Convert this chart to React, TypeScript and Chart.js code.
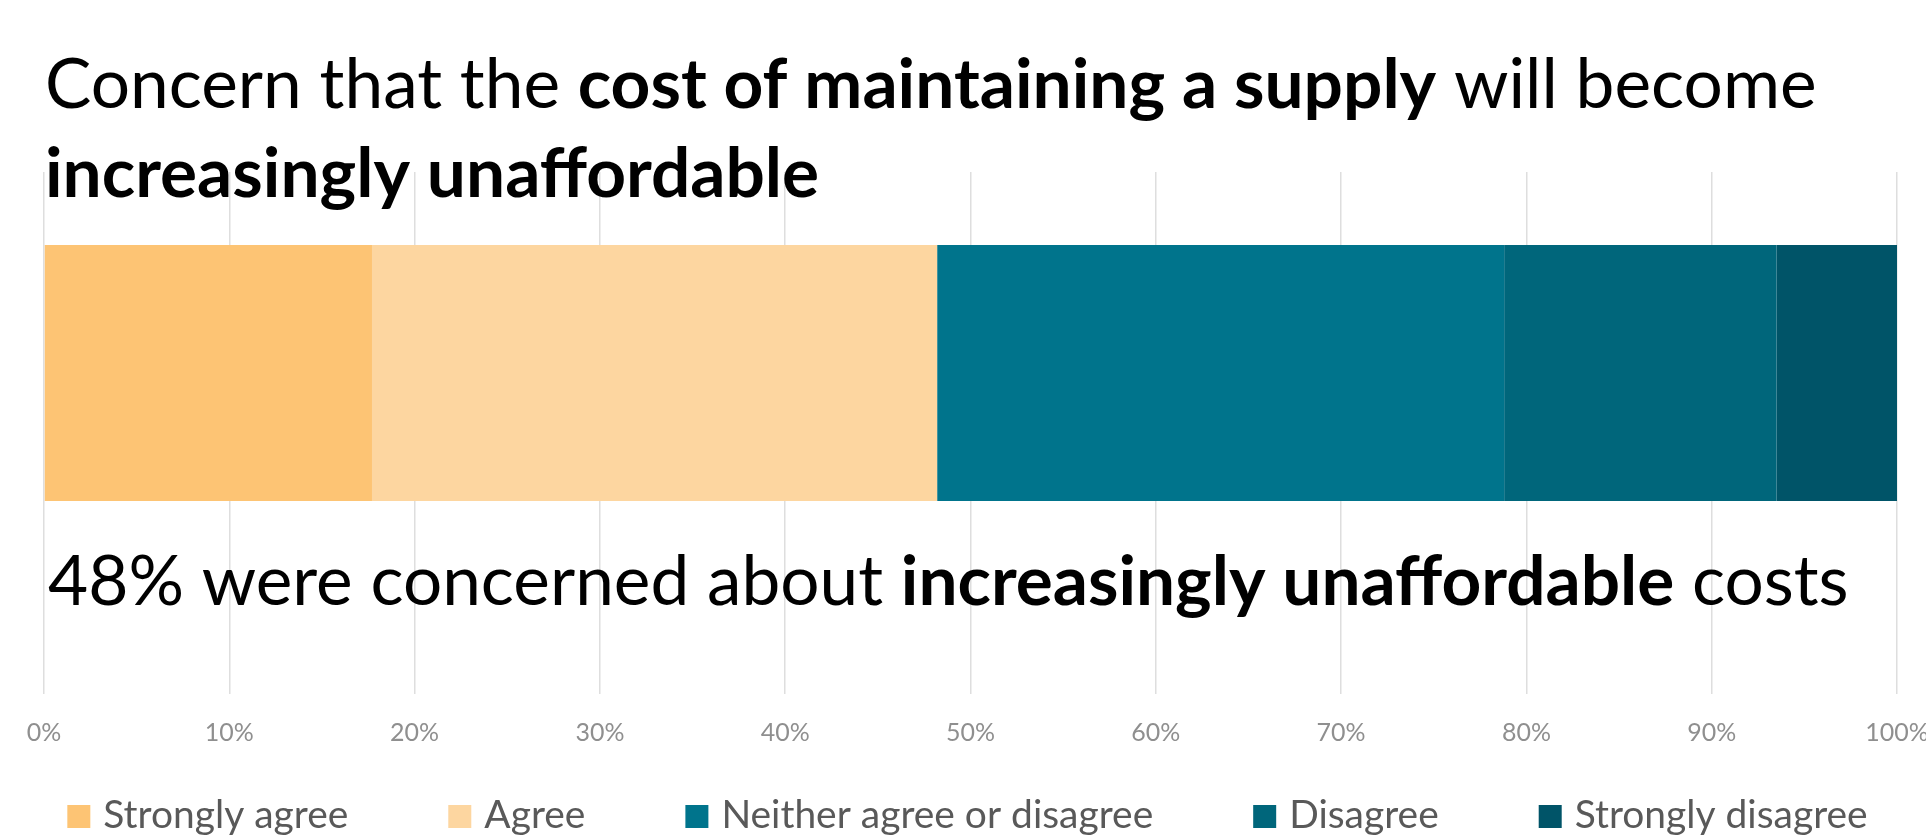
import { useEffect, useRef } from "react";
import { Chart, registerables } from "chart.js";

Chart.register(...registerables);

// ---------- DATA ----------
const categories = ["Cost of maintaining a supply"];
const seriesLabels = [
  "Strongly agree",
  "Agree",
  "Neither agree or disagree",
  "Disagree",
  "Strongly disagree",
];
const stronglyAgree = [17.7];
const agree = [30.5];
const neitherAgreeOrDisagree = [30.6];
const disagree = [14.7];
const stronglyDisagree = [6.5];
const seriesColors = ["#FDC474", "#FDD6A0", "#00748C", "#00667B", "#005468"];

const xMin = 0;
const xMax = 100;
const xStep = 10;
const tickSuffix = "%";

type Seg = { t: string; b: boolean };
const titleLine1: Seg[] = [
  { t: "Concern that the ", b: false },
  { t: "cost of maintaining a supply", b: true },
  { t: " will become", b: false },
];
const titleLine2: Seg[] = [{ t: "increasingly unaffordable", b: true }];
const noteLine: Seg[] = [
  { t: "48% were concerned about ", b: false },
  { t: "increasingly unaffordable", b: true },
  { t: " costs", b: false },
];

// ---------- STYLE ----------
const W = 1926;
const H = 837;
const FONT = "Lato, 'Open Sans', 'Noto Sans', sans-serif";

function measureSegs(ctx: CanvasRenderingContext2D, segs: Seg[], size: number) {
  let w = 0;
  for (const s of segs) {
    ctx.font = `${s.b ? "bold" : "normal"} ${size}px ${FONT}`;
    w += ctx.measureText(s.t).width;
  }
  return w;
}

function drawSegs(
  ctx: CanvasRenderingContext2D,
  segs: Seg[],
  x: number,
  y: number,
  size: number,
  color: string
) {
  ctx.fillStyle = color;
  ctx.textBaseline = "alphabetic";
  ctx.textAlign = "left";
  let cx = x;
  for (const s of segs) {
    ctx.font = `${s.b ? "bold" : "normal"} ${size}px ${FONT}`;
    ctx.fillText(s.t, cx, y);
    cx += ctx.measureText(s.t).width;
  }
}

export default function App() {
  const ref = useRef<HTMLCanvasElement | null>(null);

  useEffect(() => {
    if (!ref.current) return;
    const m = document.createElement("canvas").getContext("2d")!;
    const titleSize = (100 * 1772) / measureSegs(m, titleLine1, 100);
    const noteSize = (100 * 1801) / measureSegs(m, noteLine, 100);
    m.font = `normal 100px ${FONT}`;
    const legendSize = (100 * 245) / m.measureText(seriesLabels[0]).width;
    const tickSize = (100 * 49) / m.measureText("10%").width;

    const plotTop = 172;
    const plotBottom = 574;
    const tickLen = 120;
    const tickLabelCenter = 733;
    const tickLH = tickSize * 1.2;
    const tickPad = tickLabelCenter - (plotBottom + tickLen) - tickLH / 2;
    const axisH = tickLen + tickLH + 2 * tickPad;
    const bottomPad = H - plotBottom - axisH;
    const barPx = 256;

    const overlay = {
      id: "overlay",
      afterDraw(chart: any) {
        const ctx: CanvasRenderingContext2D = chart.ctx;
        ctx.save();
        drawSegs(ctx, titleLine1, 45, 108, titleSize, "#000000");
        drawSegs(ctx, titleLine2, 45, 197, titleSize, "#000000");
        drawSegs(ctx, noteLine, 48, 605, noteSize, "#000000");

        // legend
        const box = 23;
        const gapBT = 13;
        const gapItem = 100;
        ctx.font = `normal ${legendSize}px ${FONT}`;
        const ds = chart.data.datasets;
        const widths = ds.map((d: any) => ctx.measureText(d.label).width);
        let total = 0;
        widths.forEach((w: number, i: number) => {
          total += box + gapBT + w + (i < widths.length - 1 ? gapItem : 0);
        });
        const center = (chart.chartArea.left + chart.chartArea.right) / 2 - 3;
        let x = center - total / 2;
        const baseY = 828;
        ds.forEach((d: any, i: number) => {
          ctx.fillStyle = d.backgroundColor;
          ctx.fillRect(x, 805, box, box);
          x += box + gapBT;
          ctx.fillStyle = "#595959";
          ctx.textBaseline = "alphabetic";
          ctx.textAlign = "left";
          ctx.fillText(d.label, x, baseY);
          x += widths[i] + gapItem;
        });
        ctx.restore();
      },
    };

    const seriesValues = [
      stronglyAgree,
      agree,
      neitherAgreeOrDisagree,
      disagree,
      stronglyDisagree,
    ];

    const chart = new Chart(ref.current, {
      type: "bar",
      data: {
        labels: categories,
        datasets: seriesValues.map((vals, i) => ({
          label: seriesLabels[i],
          data: vals,
          backgroundColor: seriesColors[i],
          borderWidth: 0,
          categoryPercentage: 1,
          barPercentage: barPx / (plotBottom - plotTop),
        })),
      },
      options: {
        indexAxis: "y",
        animation: false,
        responsive: false,
        maintainAspectRatio: false,
        layout: {
          padding: { top: plotTop, left: 44, right: 29, bottom: bottomPad },
        },
        scales: {
          x: {
            type: "linear",
            stacked: true,
            min: xMin,
            max: xMax,
            grid: {
              color: "#DEDEDE",
              lineWidth: 1.5,
              drawTicks: true,
              tickLength: tickLen,
              tickColor: "#DEDEDE",
              tickWidth: 1.5,
            },
            border: { display: false },
            ticks: {
              stepSize: xStep,
              padding: tickPad,
              color: "#8F8F8F",
              font: { family: FONT, size: tickSize },
              maxRotation: 0,
              callback: (v: any) => `${v}${tickSuffix}`,
            },
            afterFit: (s: any) => {
              s.paddingLeft = 0;
              s.paddingRight = 0;
            },
          },
          y: {
            type: "category",
            stacked: true,
            display: false,
          },
        },
        plugins: {
          legend: { display: false },
          tooltip: { enabled: false },
          title: { display: false },
        },
      },
      plugins: [overlay],
    } as any);

    return () => chart.destroy();
  }, []);

  return (
    <div style={{ position: "absolute", left: 0, top: 0, width: W, height: H, background: "#ffffff" }}>
      <canvas ref={ref} width={W} height={H} style={{ display: "block", width: W, height: H }} />
    </div>
  );
}
